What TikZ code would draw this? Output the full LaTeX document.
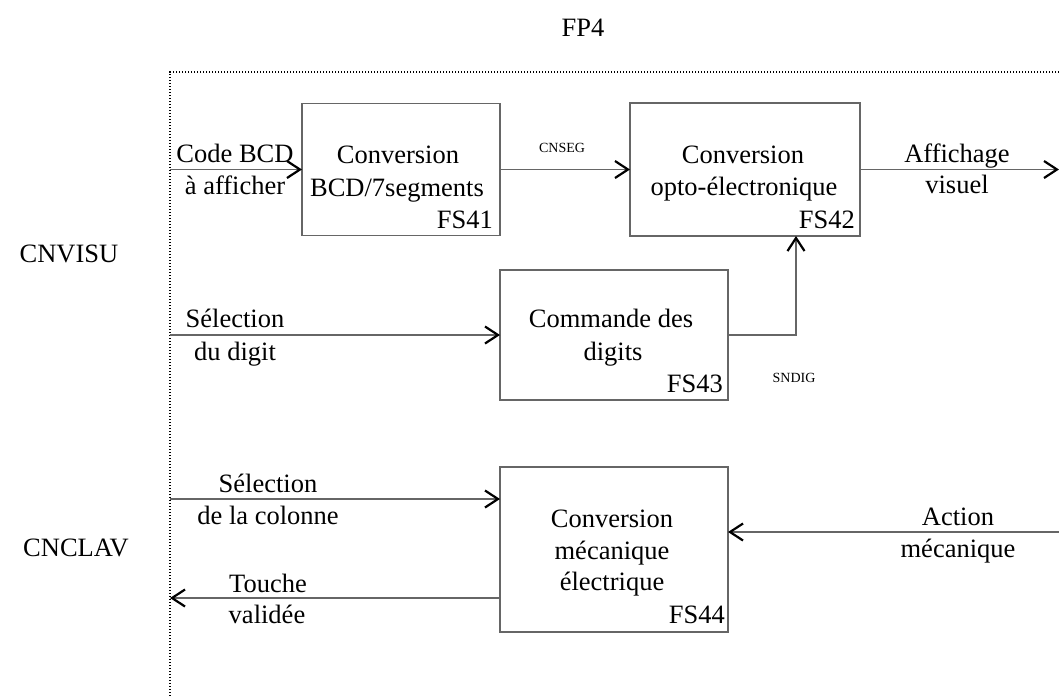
\documentclass[tikz,border=0pt]{standalone}
\usepackage{fontspec}
\setmainfont{Liberation Serif}
\usetikzlibrary{arrows.meta}
\begin{document}
\begin{tikzpicture}[x=1pt,y=-1pt,
  fbox/.style={draw=black!60,line width=1.8pt,inner sep=0pt,outer sep=0pt},
  conn/.style={draw=black!60,line width=1.8pt,-{Straight Barb[length=13pt,width=17pt,line width=2.2pt,color=black]}},
  lbl/.style={font=\fontsize{26.5}{31}\selectfont,anchor=base,inner sep=0pt},
  sml/.style={font=\fontsize{14}{16}\selectfont,anchor=base,inner sep=0pt},
  fsl/.style={font=\fontsize{26.5}{31}\selectfont,anchor=base east,inner sep=0pt}]
\useasboundingbox (0,0) rectangle (1059,697);
% frame
\draw[line width=1.4pt,dash pattern=on 1.4pt off 1.6pt] (1059,72) -- (170,72) -- (170,697);
% boxes
\node[fbox,minimum width=198pt,minimum height=132pt] (fs41) at (401,169.5) {};
\node[fbox,minimum width=230pt,minimum height=133pt] (fs42) at (745,169.5) {};
\node[fbox,minimum width=228pt,minimum height=130pt] (fs43) at (614,335) {};
\node[fbox,minimum width=228pt,minimum height=165pt] (fs44) at (614,549.5) {};
% free ends
\coordinate (in1) at (170,169.5);
\coordinate (out1) at (1059,169.5);
\coordinate (in2) at (170,335);
\coordinate (in3) at (170,499);
\coordinate (tv) at (170,598);
\coordinate (am) at (1059,532);
% connectors
\draw[conn] (in1) -- (fs41.west);
\draw[conn] (fs41.east) -- (fs42.west);
\draw[conn] (fs42.east) -- (out1);
\draw[conn] (in2) -- (fs43.west);
\draw[conn] (fs43.east) -| ([xshift=51pt]fs42.south);
\draw[conn] (in3) -- (fs44.west |- in3);
\draw[conn] (fs44.west |- tv) -- (tv);
\draw[conn] (am) -- (fs44.east |- am);
% box texts
\node[lbl] (t41a) at (398,163) {Conversion};
\node[lbl] (t41b) at (397,196) {BCD/7segments};
\node[fsl] (t41c) at (493,228) {FS41};
\node[lbl] (t42a) at (743,163) {Conversion};
\node[lbl] (t42b) at (744,195) {opto-électronique};
\node[fsl] (t42c) at (855,228) {FS42};
\node[lbl] (t43a) at (611,327) {Commande des};
\node[lbl] (t43b) at (613,360) {digits};
\node[fsl] (t43c) at (723,392) {FS43};
\node[lbl] (t44a) at (612,527) {Conversion};
\node[lbl] (t44b) at (612,559) {mécanique};
\node[lbl] (t44c) at (612,590) {électrique};
\node[fsl] (t44d) at (725,623) {FS44};
% flow labels
\node[lbl] (l1a) at (235,162) {Code BCD};
\node[lbl] (l1b) at (235,194) {à afficher};
\node[sml] (l2) at (562,152) {CNSEG};
\node[lbl] (l3a) at (957,162) {Affichage};
\node[lbl] (l3b) at (957,193) {visuel};
\node[lbl] (l4a) at (235,327) {Sélection};
\node[lbl] (l4b) at (235,360) {du digit};
\node[sml] (l5) at (794,382) {SNDIG};
\node[lbl] (l6a) at (268,492) {Sélection};
\node[lbl] (l6b) at (268,524) {de la colonne};
\node[lbl] (l7a) at (268,592) {Touche};
\node[lbl] (l7b) at (267,623) {validée};
\node[lbl] (l8a) at (958,525) {Action};
\node[lbl] (l8b) at (958,557) {mécanique};
% outer labels
\node[lbl] (fp4) at (583,36) {FP4};
\node[lbl] (cnvisu) at (69,262) {CNVISU};
\node[lbl] (cnclav) at (76,556) {CNCLAV};
\end{tikzpicture}
\end{document}
